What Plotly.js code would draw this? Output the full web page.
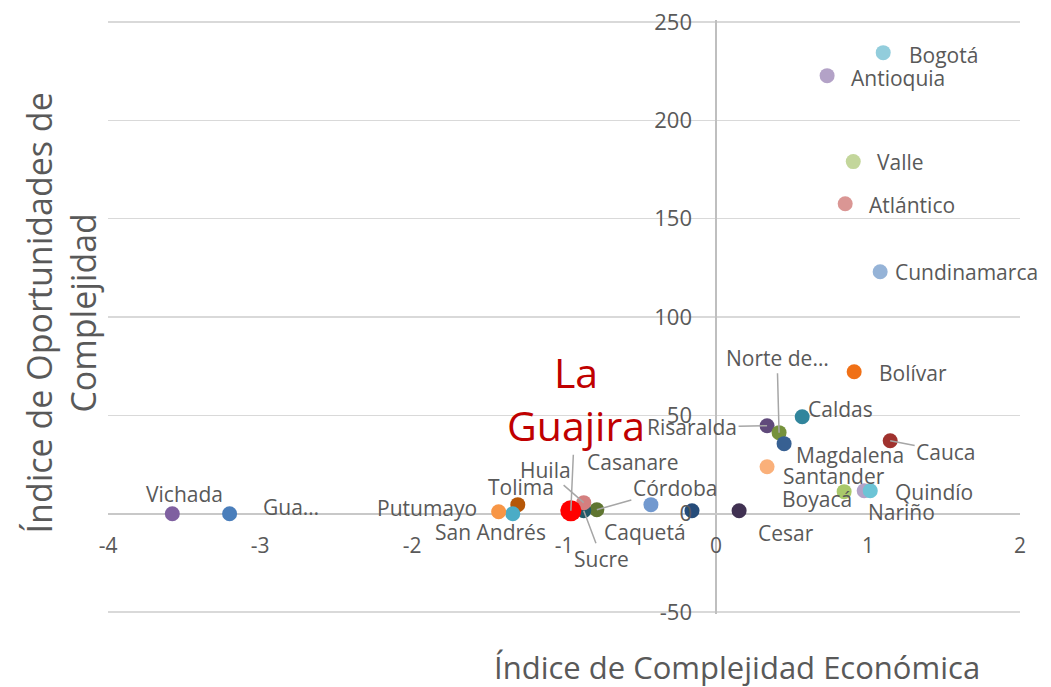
<!DOCTYPE html>
<html>
<head>
<meta charset="utf-8">
<script src="https://cdn.plot.ly/plotly-3.0.1.min.js"></script>
<style>html,body{margin:0;padding:0;background:#fff;}#chart{width:1051px;height:687px;}</style>
</head>
<body>
<div id="chart"></div>
<script>
// ---- data ----
const names = ["Bogotá","Antioquia","Valle","Atlántico","Cundinamarca","Bolívar","Caldas","Risaralda","Norte de…","Magdalena","Cauca","Santander","Boyacá","Nariño","Quindío","Cesar","Caquetá","Casanare","Córdoba","Sucre","Huila","La Guajira","Tolima","San Andrés","Putumayo","Gua…","Vichada"];
const ice = [1.10,0.731,0.903,0.850,1.080,0.909,0.567,0.336,0.415,0.448,1.146,0.336,0.843,0.975,1.015,0.152,-0.158,-0.428,-0.784,-0.870,-0.870,-0.955,-1.304,-1.337,-1.430,-3.20,-3.577];
const ioc = [234.4,222.7,179.0,157.6,123.0,72.2,49.3,44.7,41.2,35.6,37.1,23.9,11.2,11.7,11.7,1.5,1.5,4.6,2.0,1.5,5.6,1.5,4.6,0.0,1.0,0.0,0.0];
const highlight = "La Guajira";
const xTicks = [-4,-3,-2,-1,0,1,2];
const yTicks = [-50,0,50,100,150,200,250];
const xTitle = "Índice de Complejidad Económica";
const yTitle = "Índice de Oportunidades de<br>Complejidad";

// ---- styles ----
const colors = ["#92cddc","#b3a2c7","#c3d69b","#da9694","#95b3d7","#f07016","#31859c","#604a7b","#76923c","#376092","#a0322e","#fab07a","#a9c86a","#b3a2c7","#6cc4d6","#403152","#254c7a","#7299cf","#5f7530","#215968","#d47f7f","#ff0000","#b65708","#4bacc6","#f79646","#4a7ebb","#7f60a0"];
// label placement (pixel offsets from point, screen y down)
const labelAnchor = ["left","left","left","left","left","left","left","center","center","left","center","left","center","left","left","left","center","center","center","center","center","center","center","center","right","left","center"];
const labelDx = [24,22,22,22,13,23,4,-75,-2,10,56,14,-27,2,23,17,-47,-18,78,18,-38,5,3,-22,-20,31,12];
const labelDy = [2,2,0,1,0,1,-8,1,-75,11,11,9,7,21,1,22,21,-43,-22,48,-33,-112,-18,18,-4,-7,-20];
const labelLeader = [false,false,false,false,false,false,false,true,true,false,true,false,false,false,false,false,false,false,true,true,true,true,false,false,false,false,false];

const FONT = "Open Sans, Noto Sans, sans-serif";
const TXT = "#595959";

const hi = names.indexOf(highlight);
const idx = names.map((_, i) => i).filter(i => i !== hi);

const traces = [
  {
    type: "scatter", mode: "markers",
    x: idx.map(i => ice[i]), y: idx.map(i => ioc[i]),
    text: idx.map(i => names[i]),
    marker: {size: 15, color: idx.map(i => colors[i])},
    hoverinfo: "text"
  },
  {
    type: "scatter", mode: "markers",
    x: [ice[hi]], y: [ioc[hi]], text: [names[hi]],
    marker: {size: 21, color: colors[hi]},
    hoverinfo: "text"
  }
];

const annotations = names.map((n, i) => {
  const isHi = i === hi;
  const font = isHi ? {family: FONT, size: 41, color: "#c00000"} : {family: FONT, size: 21, color: TXT};
  const text = isHi ? n.replace(" ", "<br>") : n;
  if (labelLeader[i]) {
    return {x: ice[i], y: ioc[i], xref: "x", yref: "y", text: text, font: font,
      showarrow: true, arrowhead: 0, arrowwidth: 1.5, arrowcolor: "#a6a6a6",
      ax: labelDx[i], ay: labelDy[i], standoff: 0};
  }
  return {x: ice[i], y: ioc[i], xref: "x", yref: "y", text: text, font: font,
    showarrow: false, xanchor: labelAnchor[i], yanchor: "middle",
    xshift: labelDx[i], yshift: -labelDy[i]};
});

annotations.push({
  xref: "paper", yref: "paper", x: 0.69, y: -0.09, text: xTitle, showarrow: false,
  xanchor: "center", yanchor: "middle", font: {family: FONT, size: 31, color: TXT}
});
annotations.push({
  xref: "paper", yref: "paper", x: -0.052, y: 0.507, text: yTitle, showarrow: false,
  textangle: -90, xanchor: "center", yanchor: "middle", font: {family: FONT, size: 34, color: TXT}
});

const layout = {
  width: 1051, height: 687,
  margin: {l: 108, r: 31, t: 20, b: 73},
  paper_bgcolor: "#fff", plot_bgcolor: "#fff",
  showlegend: false,
  font: {family: FONT, color: TXT},
  xaxis: {
    range: [-4, 2], tickvals: xTicks, ticktext: xTicks.map(String),
    showgrid: false, zeroline: true, zerolinecolor: "#bfbfbf", zerolinewidth: 2,
    showline: false, ticks: "", anchor: "free", position: 51/302,
    ticklabelstandoff: 17, tickfont: {family: FONT, size: 21, color: TXT}
  },
  yaxis: {
    range: [-51, 251], tickvals: yTicks, ticktext: yTicks.map(String),
    showgrid: true, gridcolor: "#d9d9d9", gridwidth: 1.5,
    zeroline: true, zerolinecolor: "#c8c8c8", zerolinewidth: 2,
    showline: false, ticks: "", anchor: "free", position: 4/6,
    ticklabelstandoff: 24, tickfont: {family: FONT, size: 22, color: TXT}
  },
  annotations: annotations
};

Plotly.newPlot("chart", traces, layout, {displayModeBar: false, staticPlot: true});
</script>
</body>
</html>
